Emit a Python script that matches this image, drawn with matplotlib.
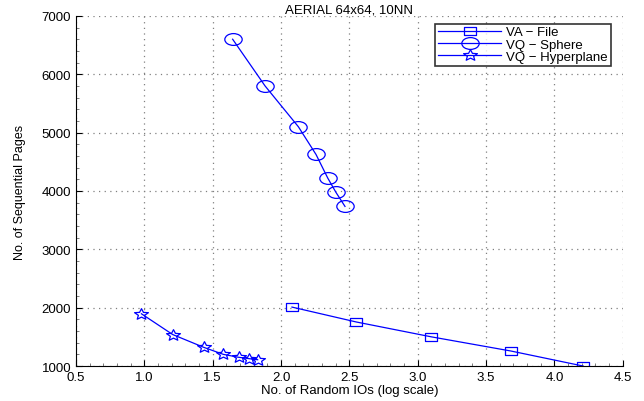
import matplotlib
matplotlib.use("Agg")
import matplotlib.pyplot as plt
from matplotlib.path import Path
from matplotlib.transforms import Affine2D
from matplotlib.ticker import MultipleLocator

plt.rcParams['font.family'] = ['Liberation Sans', 'DejaVu Sans']

# data
va_x = [2.08, 2.55, 3.10, 3.68, 4.21]
va_y = [2010, 1755, 1500, 1258, 1000]

sphere_x = [1.646, 1.883, 2.127, 2.256, 2.342, 2.402, 2.468]
sphere_y = [6600, 5800, 5100, 4625, 4220, 3975, 3735]

hyper_x = [0.979, 1.207, 1.435, 1.578, 1.690, 1.768, 1.829]
hyper_y = [1895, 1540, 1320, 1200, 1150, 1126, 1108]

labels = ["VA \u2212 File", "VQ \u2212 Sphere", "VQ \u2212 Hyperplane"]

# squashed markers, like the stretched matlab export
squash = Affine2D().scale(1.0, 0.68)
sq = Path([(-1, -1), (1, -1), (1, 1), (-1, 1), (-1, -1)],
          [Path.MOVETO, Path.LINETO, Path.LINETO, Path.LINETO, Path.CLOSEPOLY])
m_square = squash.transform_path(sq)
m_circle = squash.transform_path(Path.unit_circle())
m_star = Affine2D().scale(1.0, 0.8).transform_path(Path.unit_regular_star(5, 0.45))

fig = plt.figure(figsize=(6.44, 4.02), dpi=100)
ax = fig.add_axes([0.118, 0.087, 0.849, 0.871])

blue = (0, 0, 1)
kw = dict(color=blue, lw=0.9, markerfacecolor='none', markeredgewidth=0.9)
ax.plot(va_x, va_y, marker=m_square, ms=9, label=labels[0], **kw)
ax.plot(sphere_x, sphere_y, marker=m_circle, ms=12.5, label=labels[1], **kw)
ax.plot(hyper_x, hyper_y, marker=m_star, ms=10, label=labels[2], **kw)

ax.set_xlim(0.5, 4.5)
ax.set_ylim(1000, 7000)
ax.xaxis.set_major_locator(MultipleLocator(0.5))
ax.yaxis.set_major_locator(MultipleLocator(1000))
ax.xaxis.set_minor_locator(MultipleLocator(0.1))
ax.yaxis.set_minor_locator(MultipleLocator(200))
ax.tick_params(which='both', direction='in', labelsize=9.5)
ax.tick_params(which='major', length=4)
ax.tick_params(which='minor', length=2, color='0.4')
ax.grid(True, which='major', linestyle=(0, (1, 3.5)), color='0.5', linewidth=0.9)

ax.spines['top'].set_visible(False)
ax.spines['right'].set_visible(False)

ax.set_title("AERIAL 64x64, 10NN", fontsize=9.5, pad=1.5)
ax.set_xlabel("No. of Random IOs (log scale)", fontsize=9.5, labelpad=1)
ax.set_ylabel("No. of Sequential Pages", fontsize=9, labelpad=11)

leg = ax.legend(loc='upper right', bbox_to_anchor=(0.978, 0.978), fontsize=9.5,
                frameon=True, fancybox=False, borderpad=0.2, labelspacing=0.0,
                handlelength=4.8, handletextpad=0.4, borderaxespad=0)
leg.get_frame().set_edgecolor('black')
leg.get_frame().set_linewidth(1.2)

fig.savefig("out.png", dpi=100)
